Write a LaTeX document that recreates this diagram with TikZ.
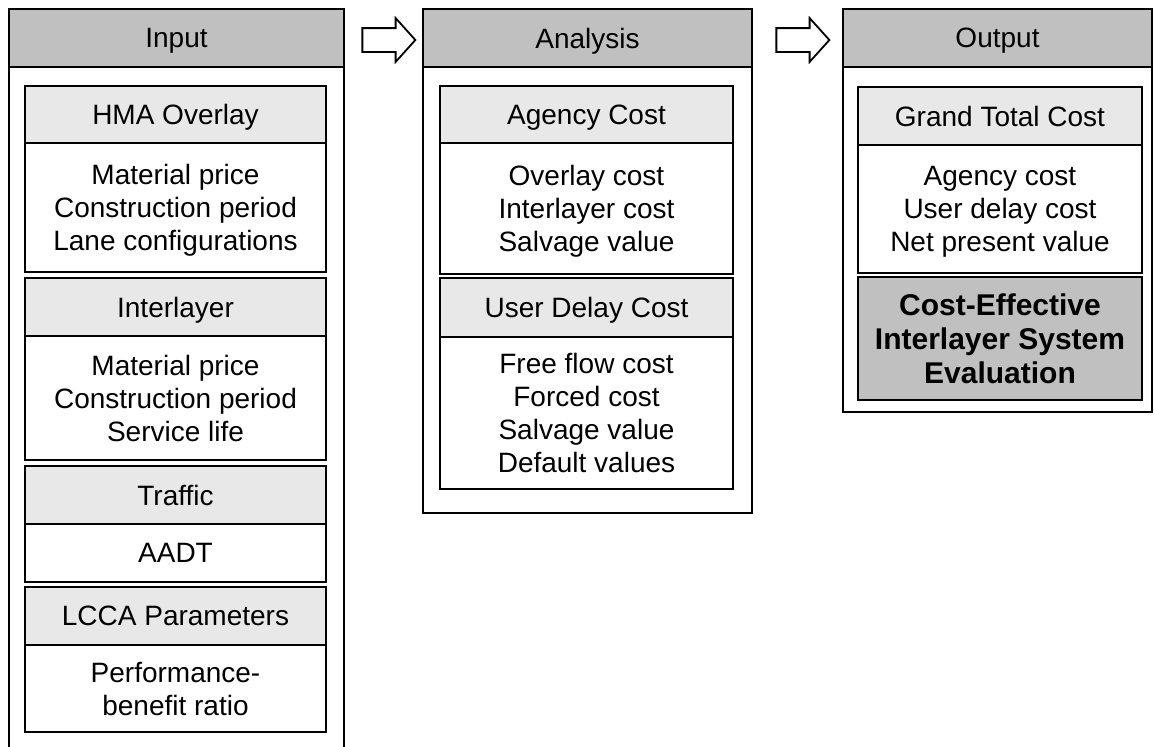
\documentclass[tikz,border=0pt]{standalone}
\usepackage{fontspec}
\setmainfont{Liberation Sans}
\usepackage{tikz}
\usetikzlibrary{shapes.arrows, calc}
\definecolor{headgray}{RGB}{192,192,192}
\definecolor{subgray}{RGB}{232,232,232}

\begin{document}
\begin{tikzpicture}[x=1pt, y=-1pt,
  col/.style={draw, line width=2.5pt, fill=white, inner sep=0pt},
  head/.style={draw, line width=2.5pt, fill=headgray, inner sep=0pt, text depth=0pt, font=\fontsize{28}{33}\selectfont},
  sub/.style={draw, line width=1.8pt, fill=subgray, inner sep=0pt, text depth=0pt, font=\fontsize{28}{33}\selectfont},
  body/.style={draw, line width=1.8pt, fill=white, inner sep=0pt, align=center, text depth=0pt, font=\fontsize{28}{33}\selectfont},
  flow/.style={single arrow, draw, line width=1.8pt, fill=white, inner xsep=0pt, inner ysep=11pt,
    minimum height=53pt, single arrow head extend=10pt, single arrow tip angle=96},
]
  \useasboundingbox (0,0) rectangle (1154,747);

  % Input
  \node[col, minimum width=335pt, minimum height=761pt] (incol) at (176.5,389.5) {};
  \node[head, minimum width=335pt, minimum height=58pt] (inhead) at (176.5,38) {Input};
  \node[sub, minimum width=301pt, minimum height=57pt] (hma) at (175.5,114.5) {HMA Overlay};
  \node[body, minimum width=301pt, minimum height=129pt] (hmabody) at (175.5,207.5) {Material price\\Construction period\\Lane configurations};
  \node[sub, minimum width=301pt, minimum height=58pt] (inter) at (175.5,307) {Interlayer};
  \node[body, minimum width=301pt, minimum height=124pt] (interbody) at (175.5,398) {Material price\\Construction period\\Service life};
  \node[sub, minimum width=301pt, minimum height=58pt] (traffic) at (175.5,495) {Traffic};
  \node[body, minimum width=301pt, minimum height=58pt] (trafficbody) at (175.5,553) {AADT};
  \node[sub, minimum width=301pt, minimum height=58pt] (lcca) at (175.5,616) {LCCA Parameters};
  \node[body, minimum width=301pt, minimum height=87pt] (lccabody) at (175.5,688.5) {Performance-\\benefit ratio};

  % Analysis
  \node[col, minimum width=329pt, minimum height=504pt] (ancol) at (587.5,261) {};
  \node[head, minimum width=329pt, minimum height=58pt] (anhead) at (587.5,38) {Analysis};
  \node[sub, minimum width=293pt, minimum height=57pt] (agency) at (586.5,114.5) {Agency Cost};
  \node[body, minimum width=293pt, minimum height=131pt] (agencybody) at (586.5,208.5) {Overlay cost\\Interlayer cost\\Salvage value};
  \node[sub, minimum width=293pt, minimum height=59pt] (delay) at (586.5,307.5) {User Delay Cost};
  \node[body, minimum width=293pt, minimum height=152pt] (delaybody) at (586.5,413) {Free flow cost\\Forced cost\\Salvage value\\Default values};

  % Output
  \node[col, minimum width=309pt, minimum height=403pt] (outcol) at (997.5,210.5) {};
  \node[head, minimum width=309pt, minimum height=58pt] (outhead) at (997.5,38) {Output};
  \node[sub, minimum width=284pt, minimum height=58pt] (total) at (1000,116) {Grand Total Cost};
  \node[body, minimum width=284pt, minimum height=128pt] (totalbody) at (1000,209) {Agency cost\\User delay cost\\Net present value};
  \node[body, fill=headgray, minimum width=284pt, minimum height=123pt,
        font=\fontsize{30}{34}\selectfont\bfseries] (verdict) at (1000,338.5) {Cost-Effective\\Interlayer System\\Evaluation};

  \node[flow] (flow1) at ($(inhead.east)!.5!(anhead.west)+(0,2)$) {};
  \node[flow] (flow2) at ($(anhead.east)!.5!(outhead.west)+(0,2)$) {};
\end{tikzpicture}
\end{document}
